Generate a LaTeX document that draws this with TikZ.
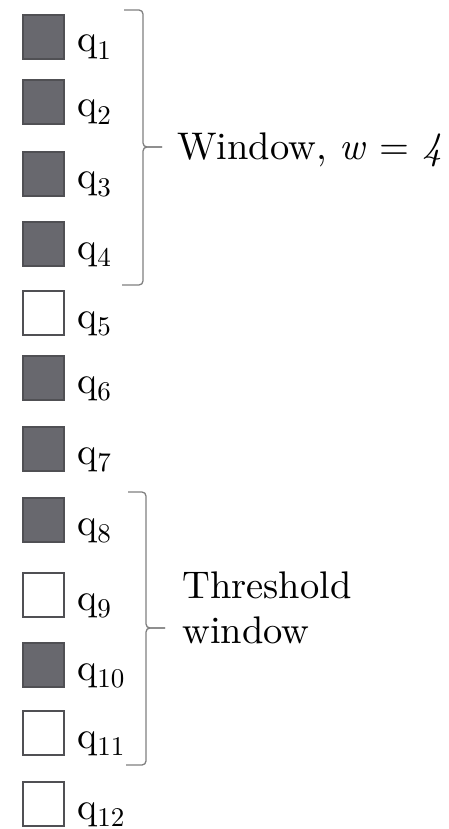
\documentclass[tikz,border=0pt]{standalone}
\usepackage{fontspec}
\setmainfont{lmroman10-regular}[Extension=.otf,ItalicFont=lmroman10-italic]
\newcommand{\qsub}[1]{q\raisebox{-0.2em}{\fontsize{27}{30}\selectfont #1}}
\begin{document}
\begin{tikzpicture}[x=1pt,y=-1pt,
  cell/.style={draw=cellEdge,line width=1.6pt,minimum width=41pt,minimum height=44pt,inner sep=0pt},
  fullcell/.style={cell,fill=cellFill},
  emptycell/.style={cell,fill=white},
  qlabel/.style={anchor=base west,inner sep=0pt,font=\fontsize{38}{45}\selectfont},
  bracket/.style={draw=braceGray,line width=1.3pt,rounded corners=4pt},
  caption/.style={anchor=base west,inner sep=0pt,align=left,font=\fontsize{38.5}{45}\selectfont}]
\definecolor{cellFill}{RGB}{104,104,110}
\definecolor{cellEdge}{RGB}{80,80,84}
\definecolor{braceGray}{RGB}{128,128,128}
\useasboundingbox (0,0) rectangle (448,829);
% the twelve query cells, top to bottom
\foreach \i/\t/\s in {1/15/fullcell,2/80/fullcell,3/152/fullcell,4/222/fullcell,
                      5/291/emptycell,6/356/fullcell,7/427/fullcell,8/498/fullcell,
                      9/573/emptycell,10/643/fullcell,11/711/emptycell,12/782/emptycell}{
  \node[\s] (b\i) at (43.5,\t+22) {};
  \node[qlabel] (l\i) at (77,\t+37) {\qsub{\i}};
}
% brace over q1..q4
\coordinate (w1top) at (124,10);
\coordinate (w1bot) at (122,285);
\coordinate (w1tip) at (162,147);
\draw[bracket] (w1top) -| (143,147) -- (w1tip);
\draw[bracket] (w1bot) -| (143,147) -- (w1tip);
\node[caption] (wtext) at (177,160) {Window, \textit{w} = \textit{4}};
% brace over q8..q11
\coordinate (w2top) at (128,492);
\coordinate (w2bot) at (126,765);
\coordinate (w2tip) at (165,628);
\draw[bracket] (w2top) -| (146,628) -- (w2tip);
\draw[bracket] (w2bot) -| (146,628) -- (w2tip);
\node[caption] (ttext) at (182,643) {Threshold\\window};
\end{tikzpicture}
\end{document}
